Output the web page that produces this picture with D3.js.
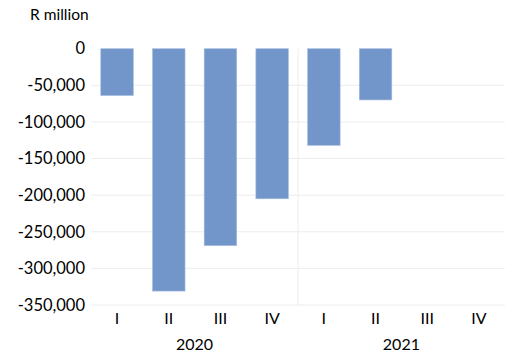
<!DOCTYPE html>
<html><head><meta charset="utf-8">
<script src="https://cdn.jsdelivr.net/npm/d3@7"></script>
<style>body{margin:0;background:#fff;} svg{display:block;font-family:Lato, "Open Sans", sans-serif;}</style>
</head><body>
<svg id="c" width="521" height="354"></svg>
<script>
const quarters = ["I","II","III","IV","I","II","III","IV"];
const years = ["2020","2021"];
const values = [-64000, -331000, -269000, -205000, -132000, -70000, null, null];
const yTicks = [0,-50000,-100000,-150000,-200000,-250000,-300000,-350000];
const yUnit = "R million";

(function(){
const svg = d3.select("#c");
const pL = 91.2, pR = 504.8, pT = 48.7, pB = 305;
const ids = quarters.map((q,i)=>i);
const x = d3.scaleBand().domain(ids).range([pL,pR]).paddingInner(0.37).paddingOuter(0.185);
const y = d3.scaleLinear().domain([0,-350000]).range([pT,pB]);

svg.append("g").selectAll("line").data(yTicks.slice(1)).join("line")
  .attr("x1",pL).attr("x2",pR).attr("y1",d=>y(d)).attr("y2",d=>y(d))
  .attr("stroke","#ececec").attr("stroke-width",1);
svg.append("line").attr("x1",(pL+pR)/2).attr("x2",(pL+pR)/2)
  .attr("y1",pT).attr("y2",pB).attr("stroke","#ececec");

const fmt = d3.format(",");
svg.append("g").selectAll("text").data(yTicks).join("text")
  .attr("x",85).attr("y",d=>y(d)).attr("dy","0.35em").attr("text-anchor","end")
  .attr("font-size",16.5).attr("fill","#000").text(d=>d===0?"0":"-"+fmt(-d));

svg.append("text").attr("x",30).attr("y",15).attr("dy","0.35em").attr("font-size",15.5).text(yUnit);

svg.append("g").selectAll("rect").data(values.map((v,i)=>({v,i})).filter(d=>d.v!==null)).join("rect")
  .attr("x",d=>x(d.i)).attr("width",x.bandwidth())
  .attr("y",y(0)).attr("height",d=>y(d.v)-y(0))
  .attr("fill","#7296ca").attr("stroke","#a9bfe0").attr("stroke-width",0.6);

svg.append("g").selectAll("text").data(ids).join("text")
  .attr("x",d=>x(d)+x.bandwidth()/2).attr("y",318).attr("dy","0.35em")
  .attr("text-anchor","middle").attr("font-size",16).text(d=>quarters[d]);

svg.append("g").selectAll("text").data(years).join("text")
  .attr("x",(d,i)=>{const a=x(i*4+1)+x.bandwidth()/2, b=x(i*4+2)+x.bandwidth()/2; return (a+b)/2;})
  .attr("y",344).attr("dy","0.35em").attr("text-anchor","middle").attr("font-size",16).text(d=>d);
})();
</script>
</body></html>
